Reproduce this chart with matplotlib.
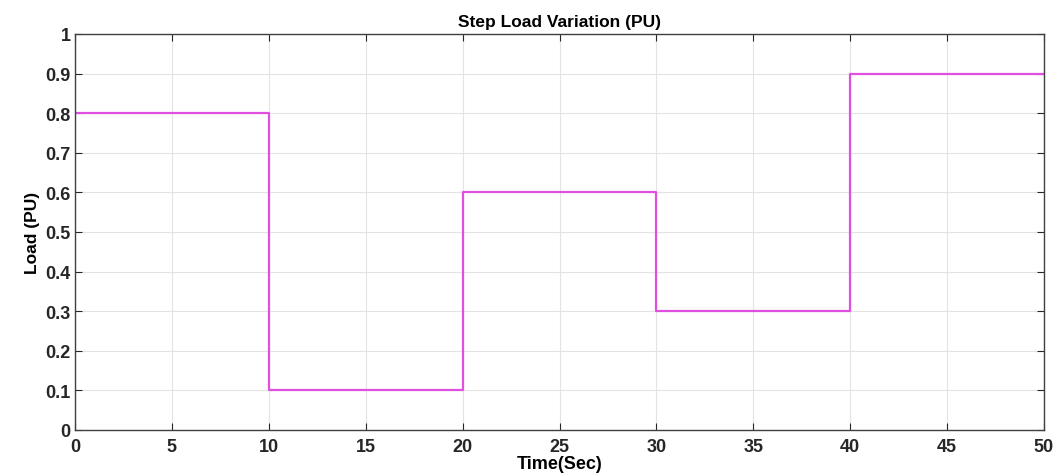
import matplotlib
matplotlib.use("Agg")
import matplotlib.pyplot as plt

# Data
step_times = [0, 10, 20, 30, 40, 50]
step_loads = [0.8, 0.1, 0.6, 0.3, 0.9, 0.9]
x_ticks = [0, 5, 10, 15, 20, 25, 30, 35, 40, 45, 50]
y_ticks = [0, 0.1, 0.2, 0.3, 0.4, 0.5, 0.6, 0.7, 0.8, 0.9, 1]
y_tick_labels = ["0", "0.1", "0.2", "0.3", "0.4", "0.5", "0.6", "0.7", "0.8", "0.9", "1"]

plt.rcParams['font.family'] = ['Liberation Sans', 'DejaVu Sans']
plt.rcParams['font.weight'] = 'bold'

fig = plt.figure(figsize=(10.61, 4.77), dpi=100)
ax = fig.add_axes([75/1061, 1 - 431/477, (1044-75)/1061, (431-35)/477])

ax.step(step_times, step_loads, where='post', color='#e050e0', linewidth=1.6)

ax.set_xlim(0, 50)
ax.set_ylim(0, 1)
ax.set_xticks(x_ticks)
ax.set_xticklabels([str(t) for t in x_ticks])
ax.set_yticks(y_ticks)
ax.set_yticklabels(y_tick_labels)
ax.tick_params(direction='in', top=True, right=True, length=5, width=0.8,
               labelsize=13, colors='#262626', pad=3)
ax.tick_params(axis='x', pad=6)
for lbl in ax.get_xticklabels() + ax.get_yticklabels():
    lbl.set_fontweight('bold')
ax.grid(True, color='#e3e3e3', linewidth=0.8)
for sp in ax.spines.values():
    sp.set_color('#404040')
    sp.set_linewidth(1.0)

ax.set_title('Step Load Variation (PU)', fontsize=12.5, fontweight='bold', pad=6)
ax.set_xlabel('Time(Sec)', fontsize=13, fontweight='bold', labelpad=0)
ax.set_ylabel('Load (PU)', fontsize=12.5, fontweight='bold', labelpad=4)

fig.savefig('out.png', dpi=100, facecolor='white')
